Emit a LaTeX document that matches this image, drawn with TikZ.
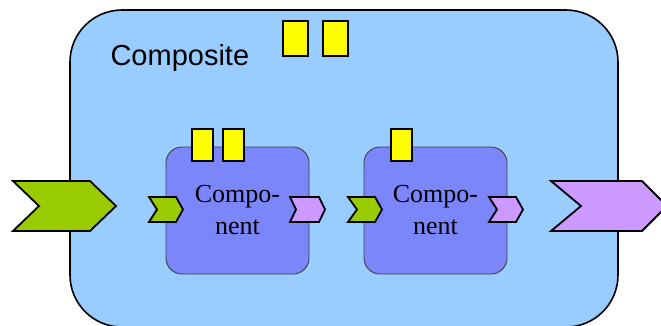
\documentclass[tikz,border=0pt]{standalone}
\usepackage{fontspec}
\setmainfont{Liberation Serif}
\setsansfont{Liberation Sans}
\definecolor{compositeblue}{HTML}{99CCFF}
\definecolor{componentblue}{RGB}{122,134,250}
\definecolor{portgreen}{HTML}{99CC00}
\definecolor{portpurple}{HTML}{CC99FF}
\definecolor{tabyellow}{HTML}{FFFF00}
\begin{document}
\begin{tikzpicture}[x=1pt,y=-1pt,
	composite/.style={draw,line width=1.6pt,fill=compositeblue,rounded corners=52pt,minimum width=548pt,minimum height=317pt},
	component/.style={draw=black!75,line width=0.9pt,fill=componentblue,rounded corners=16pt,minimum width=143pt,minimum height=127pt,align=center,font=\fontsize{26}{32}\selectfont},
	bigtab/.style={draw,line width=1.8pt,fill=tabyellow,minimum width=25pt,minimum height=35pt,inner sep=0pt},
	smalltab/.style={draw,line width=1.8pt,fill=tabyellow,minimum width=21pt,minimum height=32pt,inner sep=0pt},
	port/.style={draw,line width=1.8pt,line join=miter}]
	\useasboundingbox (0,0) rectangle (661,325);
	\clip (0,0) rectangle (661,325);
	%
	\node[composite] (comp)  at (344,168.5) {};
	\node[anchor=base west,font=\sffamily\fontsize{29}{34}\selectfont] (title) at (107,65) {Composite};
	\node[component] (c1) at (237.5,210.5) {Compo-\\nent};
	\node[component] (c2) at (435.5,210.5) {Compo-\\nent};
	%
	\node[bigtab] (t1) at (295.5,38.5) {};
	\node[bigtab] (t2) at (335.5,38.5) {};
	\def\tabs {s1/202.5, s2/233.5, s3/401.5}  % tabs on the components
	\foreach \name/\x in \tabs
	{	\node[smalltab] (\name) at (\x,145) {};
	}
	%
	% ports: left / centre y / width / half height / tip / notch / colour
	\def\ports {13/206/103/25/26/26/portgreen, 551/206/116/25/25/30/portpurple,
		149/209.5/34/12.5/7/8/portgreen, 290/209.5/35/12.5/6/6/portpurple,
		348/209.5/34/12.5/7/9/portgreen, 489/209.5/34/12.5/7/8/portpurple}
	\foreach \l/\y/\w/\h/\d/\n/\c in \ports
	{	\draw[port,fill=\c] (\l,\y-\h) -- (\l+\w-\d,\y-\h) -- (\l+\w,\y) -- (\l+\w-\d,\y+\h) -- (\l,\y+\h) -- (\l+\n,\y) -- cycle;
	}
	%
\end{tikzpicture}
\end{document}
